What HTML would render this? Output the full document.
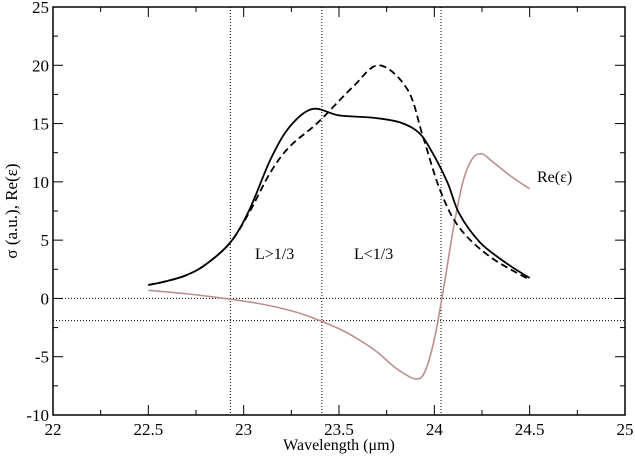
<!DOCTYPE html>
<html><head><meta charset="utf-8"><style>
body{margin:0;background:#fff}
svg{display:block;font-family:"Liberation Serif",serif}
</style></head><body>
<svg id="chart" width="635" height="459"></svg>
<script>
const xTicks=[22,22.5,23,23.5,24,24.5,25];
const yTicks=[-10,-5,0,5,10,15,20,25];
const sigmaX=[22.5,22.6,22.7,22.8,22.93,23.03,23.14,23.24,23.36,23.5,23.68,23.82,23.92,23.99,24.07,24.13,24.24,24.38,24.5];
const sigmaY=[1.15,1.5,2.0,2.9,4.8,7.6,11.9,14.7,16.25,15.7,15.5,15.1,14.2,12.5,9.9,7.3,4.8,3.0,1.75];
const dashX=[22.5,22.6,22.7,22.8,22.93,23.03,23.14,23.24,23.39,23.57,23.71,23.86,23.94,24.03,24.13,24.29,24.5];
const dashY=[1.15,1.5,2.0,2.9,4.8,7.4,10.8,13.0,15.1,18.1,20.0,17.9,13.9,9.3,6.1,3.6,1.6];
const epsX=[22.5,22.7,22.9,23.1,23.3,23.5,23.6,23.7,23.8,23.9,23.95,24.0,24.05,24.1,24.15,24.2,24.25,24.3,24.4,24.5];
const epsY=[0.7,0.4,0.0,-0.5,-1.3,-2.6,-3.5,-4.6,-6.0,-6.9,-6.3,-3.5,1.0,6.0,10.0,12.0,12.4,11.8,10.5,9.4];
const vLines=[22.93,23.41,24.035];
const hLines=[0,-1.9];

const L=53,R=625,T=7,B=415;
const sx=v=>L+(v-22)/3*(R-L);
const sy=v=>B-(v+10)/35*(B-T);
const svg=document.getElementById('chart');
const NS='http://www.w3.org/2000/svg';
function mk(t,a){const e=document.createElementNS(NS,t);for(const k in a)e.setAttribute(k,a[k]);svg.appendChild(e);return e;}
function path(xs,ys){const p=xs.map((x,i)=>[sx(x),sy(ys[i])]);let d='M'+p[0][0]+','+p[0][1];
for(let i=0;i<p.length-1;i++){const p0=p[Math.max(0,i-1)],p1=p[i],p2=p[i+1],p3=p[Math.min(p.length-1,i+2)];
d+=' C'+(p1[0]+(p2[0]-p0[0])/6)+','+(p1[1]+(p2[1]-p0[1])/6)+' '+(p2[0]-(p3[0]-p1[0])/6)+','+(p2[1]-(p3[1]-p1[1])/6)+' '+p2[0]+','+p2[1];}return d;}

hLines.forEach(v=>{const e=mk('line',{x1:L,x2:R,y1:sy(v),y2:sy(v),stroke:'#000','stroke-width':1,'stroke-dasharray':'1,2'});

});
vLines.forEach(v=>{const e=mk('line',{x1:sx(v),x2:sx(v),y1:T,y2:B,stroke:'#000','stroke-width':1,'stroke-dasharray':'1,2'});

});

let e=mk('path',{d:path(epsX,epsY),fill:'none',stroke:'#bc8f8f','stroke-width':1.6});


e=mk('path',{d:path(dashX,dashY),fill:'none',stroke:'#000','stroke-width':1.8,'stroke-dasharray':'7,4'});


e=mk('path',{d:path(sigmaX,sigmaY),fill:'none',stroke:'#000','stroke-width':1.8});



e=mk('rect',{x:L,y:T,width:R-L,height:B-T,fill:'none',stroke:'#000','stroke-width':1.5});



xTicks.forEach((v,i)=>{const x=sx(v);
mk('line',{x1:x,x2:x,y1:B,y2:B-10,stroke:'#000'});mk('line',{x1:x,x2:x,y1:T,y2:T+10,stroke:'#000'});
if(i<xTicks.length-1){const m=sx(v+0.25);mk('line',{x1:m,x2:m,y1:B,y2:B-5,stroke:'#000'});mk('line',{x1:m,x2:m,y1:T,y2:T+5,stroke:'#000'});}
const t=mk('text',{x:x,y:B+20,'text-anchor':'middle','font-size':17});t.textContent=v;

});
yTicks.forEach((v,i)=>{const y=sy(v);
mk('line',{x1:L,x2:L+10,y1:y,y2:y,stroke:'#000'});mk('line',{x1:R,x2:R-10,y1:y,y2:y,stroke:'#000'});
if(i<yTicks.length-1){const m=sy(v+2.5);mk('line',{x1:L,x2:L+5,y1:m,y2:m,stroke:'#000'});mk('line',{x1:R,x2:R-5,y1:m,y2:m,stroke:'#000'});}
const t=mk('text',{x:L-4,y:y+6,'text-anchor':'end','font-size':17});t.textContent=v;

});

e=mk('text',{x:339,y:450,'text-anchor':'middle','font-size':16});e.textContent='Wavelength (\u03bcm)';


e=mk('text',{x:0,y:0,'text-anchor':'middle','font-size':17,transform:'translate(17,211) rotate(-90)'});e.textContent='\u03c3 (a.u.), Re(\u03b5)';


e=mk('text',{x:255,y:259,'font-size':16});e.textContent='L>1/3';


e=mk('text',{x:354,y:259,'font-size':16});e.textContent='L<1/3';


e=mk('text',{x:537,y:182,'font-size':16});e.textContent='Re(\u03b5)';


</script>
</body></html>
